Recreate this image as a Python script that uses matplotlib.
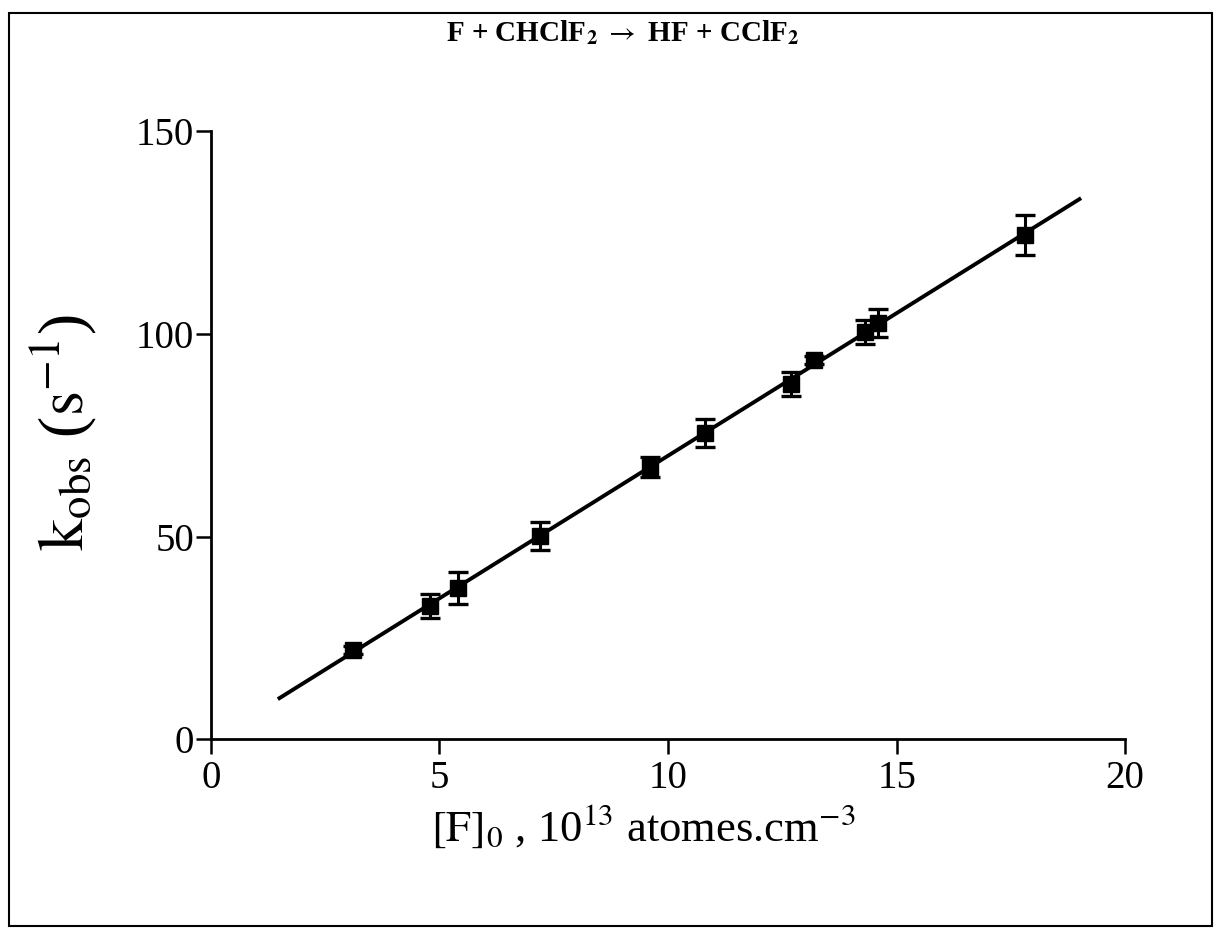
import numpy as np
import matplotlib.pyplot as plt
from matplotlib.patches import Rectangle

plt.rcParams['font.family'] = ['Liberation Serif', 'DejaVu Serif']
plt.rcParams['mathtext.fontset'] = 'stix'

# data
conc_F = [3.1, 4.8, 5.4, 7.2, 9.6, 10.8, 12.7, 13.2, 14.3, 14.6, 17.8]
k_obs = [22.0, 32.8, 37.3, 50.1, 67.2, 75.6, 87.7, 93.6, 100.5, 102.7, 124.4]
k_err = [1.0, 3.0, 4.0, 3.5, 2.5, 3.5, 3.0, 1.0, 3.0, 3.5, 5.0]
fit_range = [1.5, 19.0]

fig = plt.figure(figsize=(12.19, 9.32), dpi=100)
ax = fig.add_axes([0.173, 0.207, 0.750, 0.652])

# linear fit
slope, intercept = np.polyfit(conc_F, k_obs, 1)
xf = np.array(fit_range)
ax.plot(xf, slope * xf + intercept, c='black', linewidth=2.8, zorder=2)

ax.errorbar(conc_F, k_obs, yerr=k_err, fmt='s', c='black', ms=11.5,
            ecolor='black', elinewidth=2.2, capsize=7, capthick=2.4, zorder=3)

ax.set_xlim(0, 20)
ax.set_ylim(0, 150)
ax.set_xticks([0, 5, 10, 15, 20])
ax.set_yticks([0, 50, 100, 150])
ax.spines['top'].set_visible(False)
ax.spines['right'].set_visible(False)
for s in ['left', 'bottom']:
    ax.spines[s].set_linewidth(2)
ax.tick_params(direction='out', length=11, width=1.8, labelsize=28)
ax.tick_params(axis='y', pad=1)
ax.tick_params(axis='x', pad=4)

ax.set_xlabel(r'$[\mathrm{F}]_0$ , 10$^{13}$ atomes.cm$^{\mathrm{-3}}$', fontsize=32)
ax.xaxis.set_label_coords(0.473, -0.105)
ax.set_ylabel(r'$\mathrm{k}_{\mathrm{obs}}$ ($\mathrm{s}^{\mathrm{-1}}$)', fontsize=46)
ax.yaxis.set_label_coords(-0.122, 0.505)

fig.text(0.511, 0.965, r'F + CHClF$_\mathbf{2}$ $\rightarrow$ HF + CClF$_\mathbf{2}$',
         ha='center', va='center', fontsize=21, fontweight='bold')

# frame around the whole figure
fig.patches.append(Rectangle((0.007, 0.006), 0.987, 0.980, transform=fig.transFigure,
                             fill=False, edgecolor='black', linewidth=1.5))

plt.savefig('out.png', dpi=100)
